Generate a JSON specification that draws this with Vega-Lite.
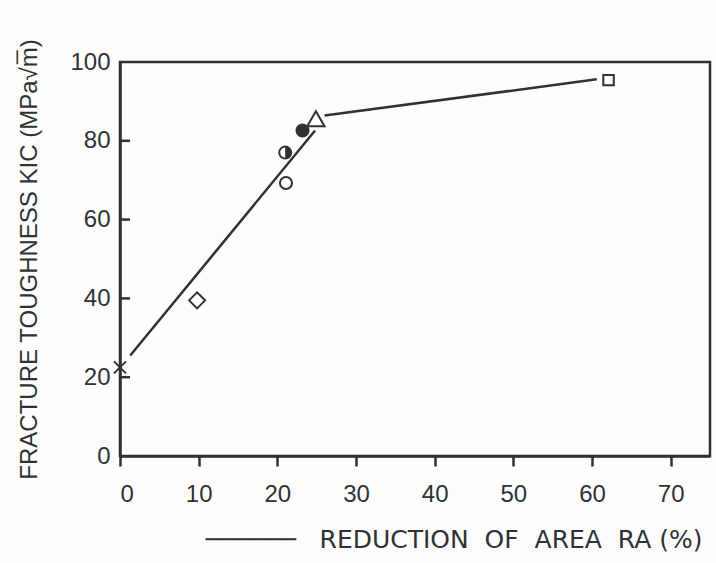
{
  "$schema": "https://vega.github.io/schema/vega-lite/v6.json",
  "width": 590,
  "height": 394,
  "autosize": {"type": "none"},
  "padding": {"left": 120, "top": 62, "right": 6, "bottom": 107},
  "background": "#fefdfb",
  "config": {
    "view": {"stroke": "#2d3236", "strokeWidth": 2.5},
    "axis": {
      "grid": false,
      "labelFont": "Liberation Sans",
      "labelFontSize": 24,
      "labelColor": "#2d3236",
      "titleFont": "Liberation Sans",
      "titleFontSize": 24,
      "titleFontWeight": "normal",
      "titleColor": "#2d3236",
      "domainColor": "#2d3236",
      "domainWidth": 2.5,
      "tickColor": "#2d3236",
      "tickWidth": 2.5
    }
  },
  "datasets": {
    "pts": [
      {"ra": 0, "k": 22.5, "m": "cross"},
      {"ra": 9.8, "k": 39.5, "m": "diamond"},
      {"ra": 21.1, "k": 69.3, "m": "open circle"},
      {"ra": 21.0, "k": 77.0, "m": "half circle"},
      {"ra": 23.2, "k": 82.6, "m": "filled circle"},
      {"ra": 24.9, "k": 85.6, "m": "triangle"},
      {"ra": 62.1, "k": 95.4, "m": "square"}
    ],
    "lines": [
      {"seg": "a", "ra": 1.3, "k": 25.5},
      {"seg": "a", "ra": 24.8, "k": 82.6},
      {"seg": "b", "ra": 26.0, "k": 86.4},
      {"seg": "b", "ra": 60.6, "k": 95.6}
    ],
    "yticks": [
      {"k": 20},
      {"k": 40},
      {"k": 60},
      {"k": 80}
    ]
  },
  "layer": [
    {
      "data": {"name": "lines"},
      "mark": {"type": "line", "color": "#2d3236", "strokeWidth": 2.5},
      "encoding": {
        "x": {
          "field": "ra", "type": "quantitative",
          "scale": {"domain": [0, 75], "nice": false, "zero": false},
          "axis": {
            "values": [0, 10, 20, 30, 40, 50, 60, 70],
            "tickSize": 10,
            "labelPadding": 16,
            "zindex": 1,
            "title": "────── \u00a0\u00a0REDUCTION\u00a0\u00a0OF\u00a0\u00a0AREA\u00a0\u00a0RA (%)",
            "titleFont": "DejaVu Sans",
            "titleFontSize": 25,
            "titleAnchor": "end",
            "titleAlign": "right",
            "titleX": 582,
            "titleY": 83,
            "titleBaseline": "middle"
          }
        },
        "y": {
          "field": "k", "type": "quantitative",
          "scale": {"domain": [0, 100], "nice": false},
          "axis": {
            "orient": "left",
            "values": [0, 20, 40, 60, 80, 100],
            "ticks": false,
            "labelPadding": 10,
            "zindex": 1,
            "title": "FRACTURE TOUGHNESS KIC (MPa√m̅)",
            "titleX": -91,
            "titleY": 197,
            "titleAngle": -90,
            "titleAlign": "center",
            "titleBaseline": "middle"
          }
        },
        "detail": {"field": "seg"}
      }
    },
    {
      "data": {"name": "yticks"},
      "mark": {"type": "tick", "orient": "horizontal", "size": 10, "thickness": 2.5, "xOffset": 5, "color": "#2d3236", "opacity": 1},
      "encoding": {
        "x": {"datum": 0, "type": "quantitative"},
        "y": {"field": "k", "type": "quantitative"}
      }
    },
    {
      "data": {"name": "pts"},
      "mark": {"type": "point", "filled": true, "stroke": "#2d3236", "strokeWidth": 2, "opacity": 1},
      "encoding": {
        "x": {"field": "ra", "type": "quantitative"},
        "y": {"field": "k", "type": "quantitative"},
        "shape": {
          "field": "m", "type": "nominal", "legend": null,
          "scale": {
            "type": "ordinal",
            "domain": ["cross", "diamond", "open circle", "half circle", "filled circle", "triangle", "square"],
            "range": ["M-1,-1L1,1M-1,1L1,-1", "M-1,0L0,-1L1,0L0,1Z", "circle", "circle", "circle", "triangle-up", "square"]
          }
        },
        "size": {
          "field": "m", "type": "nominal", "legend": null,
          "scale": {
            "type": "ordinal",
            "domain": ["cross", "diamond", "open circle", "half circle", "filled circle", "triangle", "square"],
            "range": [144, 256, 144, 144, 144, 300, 110]
          }
        },
        "fill": {
          "field": "m", "type": "nominal", "legend": null,
          "scale": {
            "type": "ordinal",
            "domain": ["cross", "diamond", "open circle", "half circle", "filled circle", "triangle", "square"],
            "range": ["transparent", "#fefdfb", "#fefdfb", "#fefdfb", "#2d3236", "#fefdfb", "#fefdfb"]
          }
        }
      }
    },
    {
      "data": {"name": "pts"},
      "transform": [{"filter": "datum.m === 'half circle'"}],
      "mark": {"type": "point", "filled": true, "shape": "M0,-1A1,1 0 0,1 0,1Z", "size": 144, "color": "#2d3236", "opacity": 1},
      "encoding": {
        "x": {"field": "ra", "type": "quantitative"},
        "y": {"field": "k", "type": "quantitative"}
      }
    }
  ]
}
